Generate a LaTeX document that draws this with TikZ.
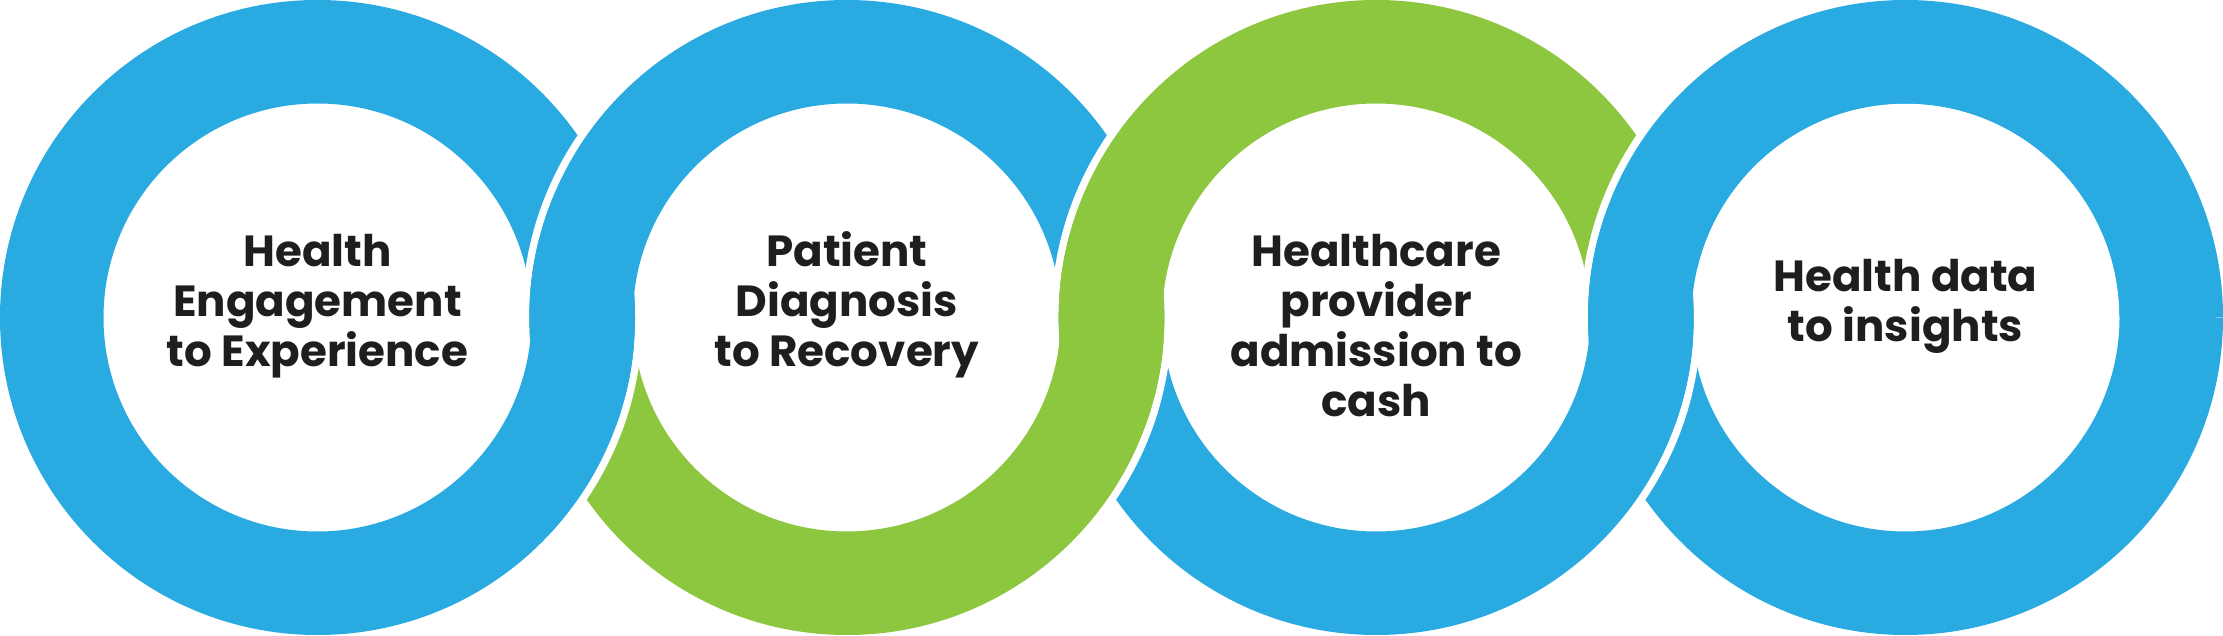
\documentclass[tikz,border=0pt]{standalone}
\usepackage{fontspec}
\setmainfont{Poppins}
\definecolor{ringblue}{HTML}{29ABE2}
\definecolor{ringgreen}{HTML}{8DC63F}
\definecolor{labeltext}{HTML}{1E1E1E}
\newcommand\Ro{3.175}
\newcommand\Ri{2.14}
\newcommand\ringpart[4]{% center, start angle, end angle, colour
  \fill[#4] ([shift={(#1)}]#2:\Ro) arc[start angle=#2,end angle=#3,radius=\Ro]
    -- ([shift={(#1)}]#3:\Ri) arc[start angle=#3,end angle=#2,radius=\Ri] -- cycle;}
\newcommand\ringgap[3]{% center, start angle, end angle
  \draw[gapline] ([shift={(#1)}]#2:\Ro) arc[start angle=#2,end angle=#3,radius=\Ro];}
\newcommand\ringfull[2]{\fill[#2,even odd rule] (#1) circle[radius=\Ro] (#1) circle[radius=\Ri];}
\tikzset{
  gapline/.style={white,line width=0.15cm},
  lbl/.style={anchor=base,inner sep=0pt,text=labeltext,
    font=\fontsize{12.4pt}{14.2pt}\selectfont\bfseries}
}
\begin{document}
\begin{tikzpicture}
\useasboundingbox (0,0) rectangle (22.23,6.35);
\fill[white] (0,0) rectangle (22.23,6.35);
\coordinate (c1) at (3.175,3.175);
\coordinate (c2) at (8.4683,3.175);
\coordinate (c3) at (13.7617,3.175);
\coordinate (c4) at (19.055,3.175);
% lower halves, right to left
\ringgap{c4}{180}{360}\ringfull{c4}{ringblue}
\ringgap{c3}{180}{360}\ringpart{c3}{180}{360}{ringblue}
\ringgap{c2}{180}{360}\ringpart{c2}{180}{360}{ringgreen}
\ringgap{c1}{180}{360}\ringfull{c1}{ringblue}
% upper halves, left to right
\ringgap{c2}{0}{180}\ringpart{c2}{0}{180}{ringblue}
\ringgap{c3}{0}{180}\ringpart{c3}{0}{180}{ringgreen}
\ringgap{c4}{0}{180}\ringpart{c4}{0}{180}{ringblue}
% junctions
\begin{scope}\clip (c1) circle[radius=\Ro];\ringpart{c2}{160}{200}{ringblue}\end{scope}
\begin{scope}\clip (c2) circle[radius=\Ro];\ringpart{c1}{-20}{20}{ringblue}\end{scope}
\begin{scope}\clip (c2) circle[radius=\Ro];\ringpart{c3}{160}{200}{ringgreen}\end{scope}
\begin{scope}\clip (c3) circle[radius=\Ro];\ringpart{c2}{-20}{20}{ringgreen}\end{scope}
\begin{scope}\clip (c3) circle[radius=\Ro];\ringpart{c4}{160}{200}{ringblue}\end{scope}
\begin{scope}\clip (c4) circle[radius=\Ro];\ringpart{c3}{-20}{20}{ringblue}\end{scope}
% labels
\node[lbl] (a1) at (3.175,3.68) {Health};
\node[lbl] (a2) at (3.175,3.18) {Engagement};
\node[lbl] (a3) at (3.175,2.68) {to Experience};
\node[lbl] (b1) at (8.4683,3.68) {Patient};
\node[lbl] (b2) at (8.4683,3.18) {Diagnosis};
\node[lbl] (b3) at (8.4683,2.68) {to Recovery};
\node[lbl] (d1) at (13.7617,3.68) {Healthcare};
\node[lbl] (d2) at (13.7617,3.18) {provider};
\node[lbl] (d3) at (13.7617,2.68) {admission to};
\node[lbl] (d4) at (13.7617,2.18) {cash};
\node[lbl] (e1) at (19.055,3.43) {Health data};
\node[lbl] (e2) at (19.055,2.93) {to insights};
\end{tikzpicture}
\end{document}
